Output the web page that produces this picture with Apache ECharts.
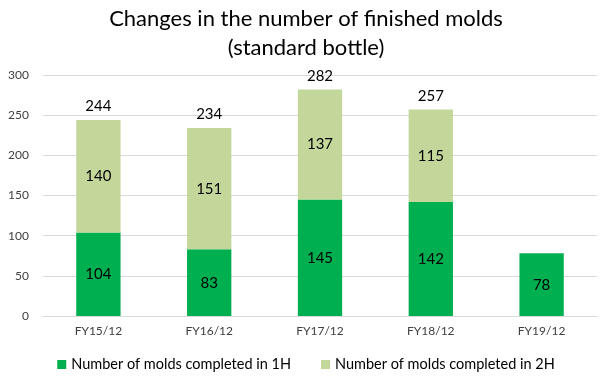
<!DOCTYPE html>
<html><head><meta charset="utf-8">
<script src="https://cdn.jsdelivr.net/npm/echarts@6/dist/echarts.min.js"></script>
<style>html,body{margin:0;padding:0;background:#fff}#c{width:612px;height:381px}</style>
</head><body><div id="c"></div>
<script>
const categories = ['FY15/12','FY16/12','FY17/12','FY18/12','FY19/12'];
const firstHalf = [104, 83, 145, 142, 78];
const secondHalf = [140, 151, 137, 115, null];
const totals = [244, 234, 282, 257, null];
const yTicks = [0, 50, 100, 150, 200, 250, 300];

const FONT = 'Lato';
const chart = echarts.init(document.getElementById('c'));
chart.setOption({
  animation: false,
  textStyle: {fontFamily: FONT},
  title: {
    text: 'Changes in the number of finished molds\n(standard bottle)',
    left: 'center', top: -1,
    textStyle: {fontFamily: FONT, fontSize: 22, fontWeight: 'normal', color: '#000', lineHeight: 29}
  },
  grid: {left: 43, right: 15, top: 75, bottom: 65},
  legend: {
    bottom: 4, left: 'center', itemWidth: 9, itemHeight: 9, itemGap: 30,
    icon: 'rect',
    textStyle: {fontFamily: FONT, fontSize: 14.5, color: '#000'},
    data: ['Number of molds completed in 1H', 'Number of molds completed in 2H']
  },
  xAxis: {
    type: 'category', data: categories,
    axisLine: {show: true, lineStyle: {color: '#d9d9d9'}}, axisTick: {show: false},
    axisLabel: {fontFamily: FONT, fontSize: 12, color: '#404040', margin: 9}
  },
  yAxis: {
    type: 'value', min: yTicks[0], max: yTicks[yTicks.length-1], interval: 50,
    axisLine: {show: false}, axisTick: {show: false},
    splitLine: {lineStyle: {color: '#d9d9d9'}},
    axisLabel: {fontFamily: FONT, fontSize: 12, color: '#404040', margin: 14}
  },
  series: [
    {
      name: 'Number of molds completed in 1H', type: 'bar', stack: 'a', barWidth: '40%',
      data: firstHalf, itemStyle: {color: '#00B050'},
      label: {show: true, position: 'inside', fontFamily: FONT, fontSize: 15, color: '#000'}
    },
    {
      name: 'Number of molds completed in 2H', type: 'bar', stack: 'a', barWidth: '40%',
      data: secondHalf, itemStyle: {color: '#C4D79B'},
      label: {show: true, position: 'inside', fontFamily: FONT, fontSize: 15, color: '#000'}
    },
    {
      name: 'total', type: 'bar', stack: 'a', barWidth: '40%',
      data: totals.map(t => t == null ? null : 0),
      itemStyle: {color: 'transparent'},
      label: {show: true, position: 'top', distance: 6, fontFamily: FONT, fontSize: 15, color: '#000',
        formatter: p => totals[p.dataIndex] == null ? '' : String(totals[p.dataIndex])}
    }
  ]
});
</script></body></html>
